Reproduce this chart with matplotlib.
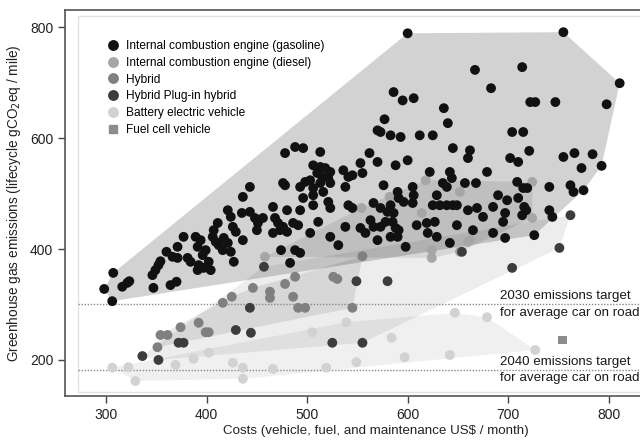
import numpy as np
import matplotlib
matplotlib.use('Agg')
import matplotlib.pyplot as plt
from matplotlib.lines import Line2D
from matplotlib.patches import Polygon, Rectangle

plt.rcParams['font.family'] = ['Liberation Sans', 'DejaVu Sans']

# ---------------- data (cost US$/month, emissions gCO2eq/mile) ----------------
gas_x = [307, 298, 306, 316, 321, 323, 347, 364, 370, 346, 349, 352, 354, 360, 366, 371, 371, 377, 381, 384,
         391, 392, 397, 402, 404, 389, 394, 391, 399, 396, 407, 411, 406, 409, 412, 416, 417, 421, 424, 427,
         421, 424, 426, 429, 436, 443, 435, 443, 448, 450, 451, 456, 436, 466, 468, 471, 466, 473, 476, 480,
         474, 573, 583, 593, 612, 625, 488, 496, 478, 513, 562, 645, 506, 513, 518, 523, 510, 515, 521, 523,
         513, 503, 498, 493, 506, 516, 496, 506, 478, 536, 541, 553, 555, 545, 570, 588, 600, 538, 576, 622,
         642, 644, 635, 639, 590, 591, 605, 606, 629, 493, 506, 521, 523, 541, 545, 566, 573, 580, 586, 583,
         596, 605, 625, 632, 639, 645, 649, 480, 476, 486, 491, 503, 511, 538, 553, 558, 563, 566, 570, 573,
         578, 585, 588, 583, 590, 591, 598, 609, 523, 531, 619, 627, 620, 629, 642, 649, 488, 493, 483, 704,
         715, 662, 660, 702, 710, 721, 755, 766, 784, 793, 773, 679, 657, 668, 709, 715, 719, 741, 762, 765,
         775, 690, 699, 710, 660, 669, 675, 685, 697, 695, 716, 714, 718, 741, 744, 665, 685, 697, 726, 600,
         755, 811, 798, 667, 714, 683, 586, 595, 606, 722, 727, 747, 636, 640, 577, 570]
gas_y = [357, 328, 306, 332, 339, 342, 330, 335, 341, 353, 362, 371, 378, 395, 386, 384, 404, 422, 384, 377,
         362, 371, 366, 377, 362, 422, 416, 404, 398, 389, 434, 447, 422, 413, 407, 398, 420, 411, 395, 377,
         470, 458, 440, 431, 494, 512, 465, 467, 456, 434, 447, 456, 416, 476, 456, 447, 429, 434, 519, 431,
         398, 611, 605, 602, 605, 605, 584, 582, 573, 575, 573, 582, 551, 548, 546, 539, 537, 530, 528, 519,
         519, 524, 521, 512, 510, 503, 492, 497, 515, 542, 530, 555, 537, 533, 557, 551, 560, 512, 515, 539,
         539, 528, 519, 512, 503, 492, 512, 497, 497, 470, 479, 485, 474, 479, 474, 483, 474, 467, 465, 479,
         485, 483, 479, 479, 479, 479, 479, 470, 440, 447, 443, 429, 449, 440, 438, 429, 452, 440, 416, 440,
         449, 449, 438, 422, 422, 434, 404, 443, 422, 407, 447, 449, 429, 422, 411, 443, 398, 393, 375, 611,
         611, 578, 564, 564, 557, 577, 566, 573, 571, 550, 546, 539, 519, 519, 521, 510, 510, 512, 515, 503,
         506, 497, 488, 492, 470, 474, 458, 476, 465, 449, 476, 461, 470, 470, 458, 434, 429, 420, 425, 789,
         791, 699, 661, 723, 728, 690, 683, 668, 672, 665, 665, 665, 654, 627, 634, 614]

diesel_x = [614, 618, 582, 554, 652, 724, 724, 662, 624, 624, 652, 660, 458]
diesel_y = [465, 524, 494, 474, 503, 521, 456, 416, 398, 384, 395, 413, 386]

hybrid_x = [416, 425, 446, 463, 463, 478, 488, 486, 491, 498, 526, 530, 545, 354, 361, 374, 392, 399, 402, 351, 555]
hybrid_y = [303, 314, 330, 323, 312, 337, 350, 314, 294, 294, 350, 346, 294, 245, 245, 259, 267, 250, 250, 223, 387]

phev_x = [336, 352, 372, 377, 429, 444, 443, 457, 525, 555, 549, 580, 704, 751, 762, 654]
phev_y = [207, 200, 231, 231, 254, 249, 294, 368, 231, 231, 342, 342, 366, 402, 461, 395]

bev_x = [306, 322, 329, 369, 387, 402, 426, 436, 436, 466, 505, 539, 549, 519, 584, 597, 642, 647, 679, 727]
bev_y = [186, 187, 162, 191, 202, 213, 195, 186, 166, 184, 250, 268, 196, 186, 240, 205, 209, 285, 277, 218]

fcv_x = [754]
fcv_y = [236]

targets = [300, 182]
target_labels = ["2030 emissions target\nfor average car on road",
                 "2040 emissions target\nfor average car on road"]

x_ticks = [300, 400, 500, 600, 700, 800]
y_ticks = [200, 400, 600, 800]

labels = ["Internal combustion engine (gasoline)", "Internal combustion engine (diesel)",
          "Hybrid", "Hybrid Plug-in hybrid", "Battery electric vehicle", "Fuel cell vehicle"]


def convex_hull(xs, ys):
    pts = sorted(set(zip(xs, ys)))
    if len(pts) < 3:
        return pts

    def cross(o, a, b):
        return (a[0] - o[0]) * (b[1] - o[1]) - (a[1] - o[1]) * (b[0] - o[0])
    lower, upper = [], []
    for p in pts:
        while len(lower) >= 2 and cross(lower[-2], lower[-1], p) <= 0:
            lower.pop()
        lower.append(p)
    for p in reversed(pts):
        while len(upper) >= 2 and cross(upper[-2], upper[-1], p) <= 0:
            upper.pop()
        upper.append(p)
    return lower[:-1] + upper[:-1]


fig = plt.figure(figsize=(6.4, 4.41), dpi=100)
ax = fig.add_axes([65 / 640, 45 / 441, 622 / 640, 386 / 441])
ax.set_xlim(259, 878)
ax.set_ylim(135, 831)

ax.add_patch(Rectangle((272, 142), 600, 678, facecolor='white', edgecolor='#e2e2e2', lw=1.0, zorder=0))

series = [
    (bev_x, bev_y, '#d2d2d2', 'o', 0.06),
    (fcv_x, fcv_y, '#8c8c8c', 's', 0.0),
    (hybrid_x, hybrid_y, '#808080', 'o', 0.09),
    (diesel_x, diesel_y, '#a6a6a6', 'o', 0.09),
    (phev_x, phev_y, '#3c3c3c', 'o', 0.07),
    (gas_x, gas_y, '#111111', 'o', 0.175),
]
for xs, ys, col, mk, a in series:
    h = convex_hull(xs, ys)
    if len(h) >= 3 and a > 0:
        ax.add_patch(Polygon(h, closed=True, facecolor='black', alpha=a, edgecolor='none', zorder=1))
for xs, ys, col, mk, a in series:
    ax.scatter(xs, ys, s=50 if mk == 'o' else 38, c=col, marker=mk, edgecolors='none', zorder=3)

for t, lab in zip(targets, target_labels):
    ax.hlines(t, 272, 878, colors='#888888', linestyles=(0, (1, 1.2)), lw=1.0, zorder=2)
    l1, l2 = lab.split('\n')
    ax.text(692, t + 4, l1, fontsize=9.6, va='bottom', ha='left', color='#1a1a1a', zorder=4)
    ax.text(692, t - 4, l2, fontsize=9.6, va='top', ha='left', color='#1a1a1a', zorder=4)

ax.set_xticks(x_ticks)
ax.set_yticks(y_ticks)
ax.tick_params(direction='out', length=5, width=1, colors='#444444', labelsize=10, labelcolor='#222222')
for s in ['left', 'bottom', 'top']:
    ax.spines[s].set_color('#555555')
    ax.spines[s].set_linewidth(1.2)
ax.spines['right'].set_visible(False)

ax.set_xlabel("Costs (vehicle, fuel, and maintenance US\\$ / month)", fontsize=9.6, color='#222222', labelpad=2)
ax.set_ylabel("Greenhouse gas emissions (lifecycle gCO$_2$eq / mile)", fontsize=9.8, color='#222222', labelpad=5)

colors = ['#111111', '#a6a6a6', '#808080', '#3c3c3c', '#d2d2d2', '#8c8c8c']
markers = ['o', 'o', 'o', 'o', 'o', 's']
handles = [Line2D([], [], ls='none', marker=m, color=c, markersize=6.8 if m == 'o' else 6) for c, m in zip(colors, markers)]
ax.legend(handles, labels, loc='upper left', bbox_to_anchor=(0.068, 0.922), frameon=False, fontsize=8.6,
          handlelength=1.0, handletextpad=0.6, labelspacing=0.4, borderaxespad=0, borderpad=0)

fig.savefig('out.png', dpi=100)
